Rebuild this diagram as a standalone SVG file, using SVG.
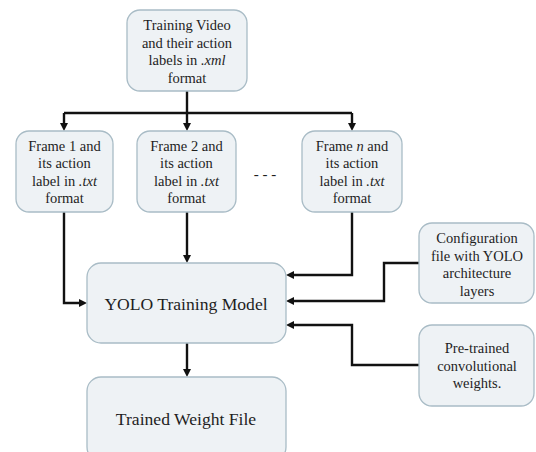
<svg xmlns="http://www.w3.org/2000/svg" width="536" height="452" viewBox="0 0 536 452">
<style>
.box{fill:#eef2f5;stroke:#a9bcc6;stroke-width:1.3}
.t{font-family:"Liberation Serif","Times New Roman",serif;font-size:14.5px;fill:#1e1e1e;text-anchor:middle}
.tb{font-family:"Liberation Serif","Times New Roman",serif;font-size:17.6px;fill:#1e1e1e;text-anchor:middle}
.i{font-style:italic}
.c{fill:none;stroke:#111;stroke-width:2.4;marker-end:url(#ah)}
.l{fill:none;stroke:#111;stroke-width:2.4}
</style>
<defs>
<marker id="ah" markerUnits="userSpaceOnUse" markerWidth="9" markerHeight="8" refX="3" refY="4" orient="auto">
<path d="M0,0 L8,4 L0,8 z" fill="#111"/>
</marker>
</defs>
<rect width="536" height="452" fill="#ffffff"/>
<g id="connectors">
<path class="l" d="M187,91 V113"/>
<path class="l" d="M64,113 H352"/>
<path class="c" d="M64,113 V126"/>
<path class="c" d="M187,113 V126"/>
<path class="c" d="M352,113 V126"/>
<path class="c" d="M64,212 V303 H82"/>
<path class="c" d="M187,212 V258"/>
<path class="c" d="M352,212 V275 H291"/>
<path class="c" d="M419,263 H384 V301 H291"/>
<path class="c" d="M419,365 H352 V325 H291"/>
<path class="c" d="M187,343 V372"/>
</g>
<g id="node-video">
<rect class="box" x="127" y="10" width="120" height="81" rx="13"/>
<text class="t" x="187" y="30">Training Video</text>
<text class="t" x="187" y="47.5">and their action</text>
<text class="t" x="187" y="65">labels in <tspan class="i">.xml</tspan></text>
<text class="t" x="187" y="82.5">format</text>
</g>
<g id="node-frame1">
<rect class="box" x="16" y="131" width="97" height="81" rx="13"/>
<text class="t" x="64.5" y="151">Frame 1 and</text>
<text class="t" x="64.5" y="168.3">its action</text>
<text class="t" x="64.5" y="185.6">label in <tspan class="i">.txt</tspan></text>
<text class="t" x="64.5" y="203">format</text>
</g>
<g id="node-frame2">
<rect class="box" x="137" y="131" width="99" height="81" rx="13"/>
<text class="t" x="186.5" y="151">Frame 2 and</text>
<text class="t" x="186.5" y="168.3">its action</text>
<text class="t" x="186.5" y="185.6">label in <tspan class="i">.txt</tspan></text>
<text class="t" x="186.5" y="203">format</text>
</g>
<g id="dots">
<text class="t" x="265" y="179" style="font-size:15px">- - -</text>
</g>
<g id="node-framen">
<rect class="box" x="302" y="131" width="100" height="81" rx="13"/>
<text class="t" x="352" y="151">Frame <tspan class="i">n</tspan> and</text>
<text class="t" x="352" y="168.3">its action</text>
<text class="t" x="352" y="185.6">label in <tspan class="i">.txt</tspan></text>
<text class="t" x="352" y="203">format</text>
</g>
<g id="node-yolo">
<rect class="box" x="87" y="263" width="199" height="80" rx="14"/>
<text class="tb" x="186" y="310">YOLO Training Model</text>
</g>
<g id="node-config">
<rect class="box" x="419" y="223" width="115" height="80" rx="13"/>
<text class="t" x="477" y="243">Configuration</text>
<text class="t" x="477" y="260.5">file with YOLO</text>
<text class="t" x="477" y="278">architecture</text>
<text class="t" x="477" y="295.5">layers</text>
</g>
<g id="node-pretrained">
<rect class="box" x="419" y="325" width="115" height="81" rx="13"/>
<text class="t" x="477" y="353">Pre-trained</text>
<text class="t" x="477" y="370.5">convolutional</text>
<text class="t" x="477" y="388">weights.</text>
</g>
<g id="node-trained">
<rect class="box" x="87" y="377" width="199" height="84" rx="14"/>
<text class="tb" x="186" y="425">Trained Weight File</text>
</g>
</svg>
